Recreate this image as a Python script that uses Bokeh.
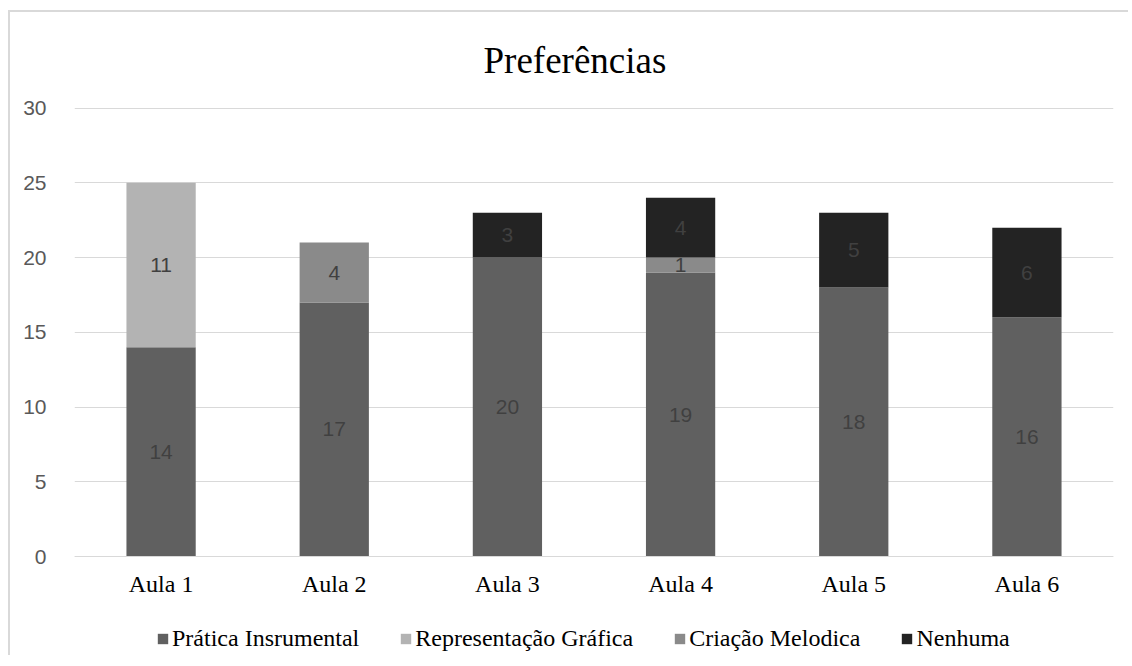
from bokeh.plotting import figure
from bokeh.models import ColumnDataSource, Legend, LegendItem, FactorRange, LabelSet
from bokeh.embed import file_html
from bokeh.resources import INLINE
from bokeh.core.properties import value

categories = ["Aula 1", "Aula 2", "Aula 3", "Aula 4", "Aula 5", "Aula 6"]
pratica = [14, 17, 20, 19, 18, 16]
representacao = [11, 0, 0, 0, 0, 0]
criacao = [0, 4, 0, 1, 0, 0]
nenhuma = [0, 0, 3, 4, 5, 6]
series_names = ["Prática Insrumental", "Representação Gráfica", "Criação Melodica", "Nenhuma"]
series_keys = ["pratica", "representacao", "criacao", "nenhuma"]
colors = ["#606060", "#b3b3b3", "#8a8a8a", "#232323"]
y_ticks = [0, 5, 10, 15, 20, 25, 30]
title_text = "Preferências"

data = dict(cats=categories, pratica=pratica, representacao=representacao,
            criacao=criacao, nenhuma=nenhuma)
source = ColumnDataSource(data)

# frame extends below zero so the category labels and legend sit inside it
px_per_unit = 449 / 30.04
frame_h = 548
y_start = -(frame_h - 449) / px_per_unit

p = figure(x_range=FactorRange(*categories, range_padding=0), y_range=(y_start, 30.04),
           frame_width=1039, frame_height=frame_h, output_backend="svg", toolbar_location=None,
           title=title_text,
           min_border_left=74, min_border_right=15, min_border_top=107, min_border_bottom=0)
p.outline_line_color = None
p.background_fill_color = "white"
p.border_fill_alpha = 0
p.styles = {
    "background": ("linear-gradient(#d9d9d9, #d9d9d9) 8px 11px / 2px 100% no-repeat, "
                   "linear-gradient(#d9d9d9, #d9d9d9) 8px 10px / 100% 2px no-repeat, white"),
}

p.title.text_font = "Liberation Serif"
p.title.text_font_size = "37px"
p.title.text_font_style = "normal"
p.title.text_color = "#000000"
p.title.align = "left"
p.title.offset = 409
p.title.standoff = 54

renderers = p.vbar_stack(series_keys, x="cats", width=0.4, source=source,
                         color=colors, line_color=None)

# segment labels
lx, ly, lt = [], [], []
vals = [pratica, representacao, criacao, nenhuma]
for i, c in enumerate(categories):
    base = 0
    for s in vals:
        v = s[i]
        if v:
            lx.append(c)
            ly.append(base + v / 2)
            lt.append(str(v))
        base += v
lsrc = ColumnDataSource(dict(x=lx, y=ly, t=lt))
p.add_layout(LabelSet(x="x", y="y", text="t", source=lsrc, text_align="center",
                      text_baseline="middle", text_font=value("Liberation Sans"),
                      text_font_size="21px", text_color="#404040"))

p.yaxis.ticker = y_ticks
p.yaxis.axis_line_color = None
p.yaxis.major_tick_line_color = None
p.yaxis.minor_tick_line_color = None
p.yaxis.major_label_text_font = "Liberation Sans"
p.yaxis.major_label_text_font_size = "21px"
p.yaxis.major_label_text_color = "#595959"
p.yaxis.major_label_standoff = 22

p.xaxis.fixed_location = 0
p.xaxis.axis_line_color = "#d9d9d9"
p.xaxis.axis_line_width = 1
p.xaxis.major_tick_line_color = None
p.xaxis.minor_tick_line_color = None
p.xaxis.major_label_text_font = "Liberation Serif"
p.xaxis.major_label_text_font_size = "24px"
p.xaxis.major_label_text_color = "#000000"
p.xaxis.major_label_standoff = 8

p.xgrid.grid_line_color = None
p.ygrid.grid_line_color = "#d9d9d9"
p.ygrid.grid_line_width = 1

legend = Legend(items=[LegendItem(label=n, renderers=[r]) for n, r in zip(series_names, renderers)],
                orientation="horizontal", location=(82, 3),
                label_text_font="Liberation Serif", label_text_font_size="24px",
                label_text_color="#000000", glyph_width=13, glyph_height=13,
                label_standoff=3, spacing=40, padding=0, margin=0,
                border_line_color=None, background_fill_alpha=0)
p.add_layout(legend, "center")

open("out.html", "w").write(file_html(p, INLINE))
